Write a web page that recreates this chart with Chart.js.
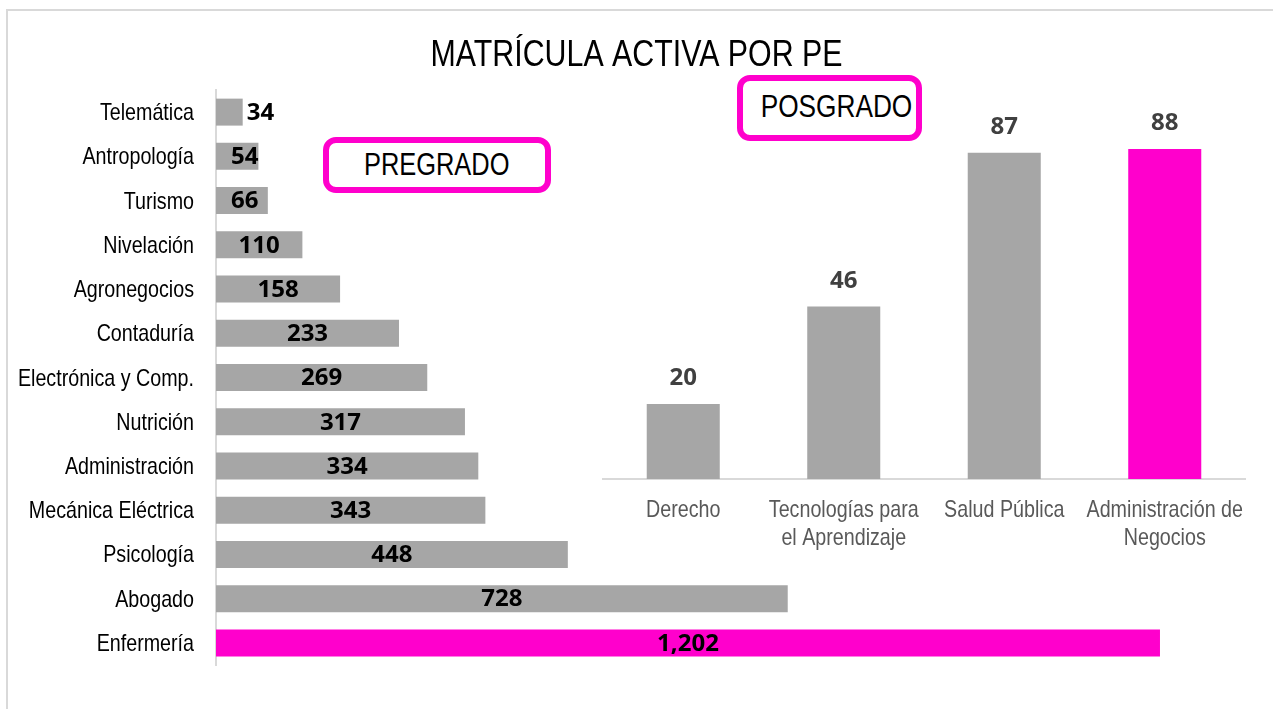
<!DOCTYPE html>
<html>
<head>
<meta charset="utf-8">
<script src="https://cdn.jsdelivr.net/npm/chart.js@4.4.1/dist/chart.umd.min.js"></script>
<style>
  html, body { margin: 0; padding: 0; background: #fff; overflow: hidden; }
  #page { position: relative; width: 1273px; height: 709px; }
  #page canvas { position: absolute; left: 0; top: 0; }
  .frame { position: absolute; left: 6px; top: 9px; width: 1300px; height: 720px;
           border-top: 2px solid #d9d9d9; border-left: 2px solid #d9d9d9; }
  .tag { position: absolute; box-sizing: border-box; border: 6px solid #ff00cc; border-radius: 13px;
         font-family: 'Liberation Sans', Arial, sans-serif; color: #000; background: #fff;
         display: flex; align-items: center; justify-content: center; white-space: nowrap; }
  .tag span { display: inline-block; transform: scaleX(0.82); }
</style>
</head>
<body>
<div id="page">
  <div class="frame"></div>
  <canvas id="pregradoChart" width="1273" height="709"></canvas>
  <canvas id="posgradoChart" width="1273" height="709"></canvas>
  <div class="tag" style="left:323px;top:137px;width:228px;height:56px;font-size:31px;"><span>PREGRADO</span></div>
  <div class="tag" style="left:737px;top:75px;width:185px;height:66px;font-size:32px;padding-left:14px;padding-bottom:4px;"><span>POSGRADO</span></div>
</div>
<script>
// Pregrado
const pregradoLabels = ['Telemática', 'Antropología', 'Turismo', 'Nivelación', 'Agronegocios', 'Contaduría',
  'Electrónica y Comp.', 'Nutrición', 'Administración', 'Mecánica Eléctrica', 'Psicología', 'Abogado', 'Enfermería'];
const pregradoValues = [34, 54, 66, 110, 158, 233, 269, 317, 334, 343, 448, 728, 1202];

// Posgrado
const posgradoLabels = [['Derecho'], ['Tecnologías para', 'el Aprendizaje'], ['Salud Pública'], ['Administración de', 'Negocios']];
const posgradoValues = [20, 46, 87, 88];

const chartTitle = 'MATRÍCULA ACTIVA POR PE';

const gray = '#a6a6a6';
const pink = '#ff00cc';
const narrowScale = 0.82;   // squeeze Liberation Sans to look like Arial Narrow

function barColors(values) {
    const top = Math.max(...values);
    return values.map(v => v === top ? pink : gray);
}

function narrowText(ctx, txt, x, y, size, color, align) {
    ctx.save();
    ctx.font = size + "px 'Liberation Sans', Arial, sans-serif";
    ctx.fillStyle = color;
    ctx.textAlign = align;
    ctx.textBaseline = 'alphabetic';
    ctx.scale(narrowScale, 1);
    ctx.fillText(txt, x / narrowScale, y);
    ctx.restore();
}

// category names, title and value labels for the horizontal chart
const hLabels = {
    id: 'hLabels',
    afterDatasetsDraw(chart) {
        const ctx = chart.ctx;
        const meta = chart.getDatasetMeta(0);
        const yScale = chart.scales.y;

        narrowText(ctx, chartTitle, chart.width / 2, 66, 37, '#000', 'center');

        pregradoLabels.forEach((lab, i) => {
            narrowText(ctx, lab, yScale.right - 22, yScale.getPixelForTick(i) + 8, 24, '#000', 'right');
        });

        ctx.save();
        ctx.font = "bold 24px 'Open Sans', sans-serif";
        ctx.fillStyle = '#000';
        ctx.textBaseline = 'middle';
        ctx.textAlign = 'left';
        meta.data.forEach((bar, i) => {
            const txt = pregradoValues[i].toLocaleString('en-US');
            const w = ctx.measureText(txt).width;
            const base = bar.base;
            let x;
            if (base + 15 + w > bar.x + 3) {
                x = bar.x + 4;
            } else {
                x = Math.max((base + bar.x) / 2 - w / 2, base + 15);
            }
            ctx.fillText(txt, x, bar.y + 1);
        });
        ctx.restore();
    }
};

const vLabels = {
    id: 'vLabels',
    afterDatasetsDraw(chart) {
        const ctx = chart.ctx;
        const meta = chart.getDatasetMeta(0);
        const xScale = chart.scales.x;

        posgradoLabels.forEach((lines, i) => {
            const x = xScale.getPixelForTick(i);
            lines.forEach((line, j) => {
                narrowText(ctx, line, x, xScale.top + 38 + j * 28, 24, '#595959', 'center');
            });
        });

        ctx.save();
        ctx.font = "bold 24px 'Open Sans', sans-serif";
        ctx.fillStyle = '#404040';
        ctx.textBaseline = 'alphabetic';
        ctx.textAlign = 'center';
        meta.data.forEach((bar, i) => {
            ctx.fillText(String(posgradoValues[i]), bar.x, bar.y - 19);
        });
        ctx.restore();
    }
};

const pregradoCtx = document.getElementById('pregradoChart').getContext('2d');
const pregradoChart = new Chart(pregradoCtx, {
    type: 'bar',
    data: {
        labels: pregradoLabels,
        datasets: [{
            data: pregradoValues,
            backgroundColor: barColors(pregradoValues),
            barPercentage: 0.61,
            categoryPercentage: 1
        }]
    },
    options: {
        indexAxis: 'y',
        responsive: false,
        animation: false,
        layout: { padding: { top: 90, left: 7, right: 7, bottom: 44 } },
        plugins: {
            legend: { display: false },
            tooltip: { enabled: false }
        },
        scales: {
            x: { display: false, min: 0, max: 1337 },
            y: {
                grid: { display: false },
                border: { display: true, color: '#d9d9d9', width: 2 },
                ticks: { display: false },
                afterFit(scale) { scale.width = 209; }
            }
        }
    },
    plugins: [hLabels]
});

const posgradoCtx = document.getElementById('posgradoChart').getContext('2d');
const posgradoChart = new Chart(posgradoCtx, {
    type: 'bar',
    data: {
        labels: posgradoLabels,
        datasets: [{
            data: posgradoValues,
            backgroundColor: barColors(posgradoValues),
            barPercentage: 0.455,
            categoryPercentage: 1
        }]
    },
    options: {
        responsive: false,
        animation: false,
        layout: { padding: { top: 104, left: 603, right: 28, bottom: 0 } },
        plugins: {
            legend: { display: false },
            tooltip: { enabled: false }
        },
        scales: {
            y: { display: false, min: 0, max: 100 },
            x: {
                grid: { display: false },
                border: { display: true, color: '#d9d9d9', width: 2 },
                ticks: { display: false },
                afterFit(scale) { scale.height = 230; }
            }
        }
    },
    plugins: [vLabels]
});
</script>
</body>
</html>
